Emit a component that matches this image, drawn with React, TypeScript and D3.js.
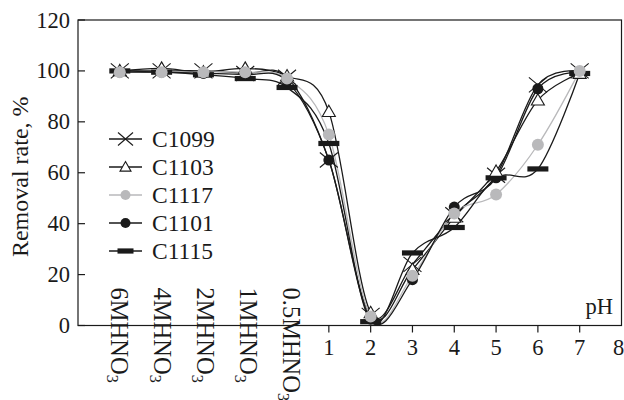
import React from "react";
import * as d3 from "d3";

// x positions: acid concentrations are placed left of pH 1
const acidLabels = ["6M", "4M", "2M", "1M", "0.5M"];
const xPos = [-4, -3, -2, -1, 0, 1, 2, 3, 4, 5, 6, 7];
const pHTicks = [1, 2, 3, 4, 5, 6, 7, 8];
const yTicks = [0, 20, 40, 60, 80, 100, 120];

const c1099 = [100, 100, 100, 99, 97.5, 65, 4, 24, 43.5, 59, 94.5, 100];
const c1103 = [100, 101, 99.5, 101, 98, 84, 5, 22, 42.5, 60.5, 88.5, 99];
const c1117 = [99.5, 99.5, 99.5, 99.5, 97, 75, 3.5, 19.5, 44, 51.5, 71, 100];
const c1101 = [99.5, 99.5, 99, 98.5, 96, 65, 2.5, 18, 46.5, 58, 93, 99.5];
const c1115 = [100, 99.5, 98.5, 97, 93.5, 71.5, 1.5, 28.5, 38.5, 58, 61.5, 99];

const W = 624;
const H = 400;
const margin = { left: 78, right: 2.5, top: 20, bottom: 74.5 };
const FONT = "'Liberation Serif', 'Times New Roman', Times, serif";
const GREY = "#b9b9bb";
const INK = "#1a1a1a";

type Kind = "x" | "tri" | "grey" | "dot" | "bar";
const series: { name: string; values: number[]; kind: Kind }[] = [
  { name: "C1099", values: c1099, kind: "x" },
  { name: "C1103", values: c1103, kind: "tri" },
  { name: "C1117", values: c1117, kind: "grey" },
  { name: "C1101", values: c1101, kind: "dot" },
  { name: "C1115", values: c1115, kind: "bar" },
];
// marker stacking seen in the picture
const markerOrder = ["C1115", "C1101", "C1099", "C1103", "C1117"];

const Marker = ({ kind, cx, cy, legend }: { kind: Kind; cx: number; cy: number; legend?: boolean }) => {
  if (kind === "x") {
    const w = legend ? 7.5 : 9, h = legend ? 6.5 : 7.5;
    return (
      <g stroke={INK} strokeWidth={1.1}>
        <line x1={cx - w} y1={cy - h} x2={cx + w} y2={cy + h} />
        <line x1={cx - w} y1={cy + h} x2={cx + w} y2={cy - h} />
      </g>
    );
  }
  if (kind === "tri") {
    const s = legend ? 5.5 : 6.5;
    return (
      <path
        d={`M${cx},${cy - s}L${cx + s},${cy + s * 0.75}L${cx - s},${cy + s * 0.75}Z`}
        fill="#fff"
        stroke={INK}
        strokeWidth={1.1}
      />
    );
  }
  if (kind === "grey") return <circle cx={cx} cy={cy} r={legend ? 5 : 6} fill={GREY} />;
  if (kind === "dot") return <circle cx={cx} cy={cy} r={legend ? 5 : 5.5} fill={INK} />;
  const bw = legend ? 16 : 21;
  return <rect x={cx - bw / 2} y={cy - 2.6} width={bw} height={5.2} fill={INK} />;
};

export default function App() {
  const x = d3.scaleLinear().domain([-5, 8]).range([margin.left, W - margin.right]);
  const y = d3.scaleLinear().domain([0, 120]).range([H - margin.bottom, margin.top]);

  const line = d3
    .line<number>()
    .x((_, i) => x(xPos[i]))
    .y((d) => y(d))
    .curve(d3.curveCatmullRom.alpha(0));

  const legendX = 109;
  const legendY = 139;
  const legendStep = 28;

  return (
    <svg
      width={W}
      height={H}
      style={{ position: "absolute", left: 0, top: 0, background: "#fff", fontFamily: FONT }}
    >
      {/* frame */}
      <rect
        x={x(-5)}
        y={y(120)}
        width={x(8) - x(-5)}
        height={y(0) - y(120)}
        fill="none"
        stroke={INK}
        strokeWidth={1.2}
      />

      {/* y axis */}
      {yTicks.map((t) => (
        <g key={t}>
          <line x1={x(-5)} x2={x(-5) + 7} y1={y(t)} y2={y(t)} stroke={INK} strokeWidth={1.2} />
          <text x={x(-5) - 8} y={y(t)} textAnchor="end" dominantBaseline="central" fontSize={22.5} fill={INK}>
            {t}
          </text>
        </g>
      ))}
      <text
        transform={`translate(20,${(y(0) + y(120)) / 2 + 4}) rotate(-90)`}
        textAnchor="middle"
        dominantBaseline="central"
        fontSize={24}
        fill={INK}
      >
        Removal rate, %
      </text>

      {/* x axis */}
      {pHTicks.map((t) => (
        <g key={t}>
          {t < 8 && <line x1={x(t)} x2={x(t)} y1={y(0)} y2={y(0) + 7} stroke={INK} strokeWidth={1.2} />}
          <text x={x(t) - (t === 8 ? 3 : 0)} y={y(0) + 29} textAnchor="middle" fontSize={22.5} fill={INK}>
            {t}
          </text>
        </g>
      ))}
      {acidLabels.map((lab, i) => (
        <text
          key={lab}
          transform={`translate(${x(xPos[i]) + i},${y(0) - 38}) rotate(90)`}
          dominantBaseline="central"
          fontSize={24.5}
          fill={INK}
        >
          {lab}HNO
          <tspan fontSize={16} dy={7}>
            3
          </tspan>
        </text>
      ))}
      <text x={613} y={y(0) - 12} textAnchor="end" fontSize={22.5} fill={INK}>
        pH
      </text>

      {/* lines */}
      {series.map((s) => (
        <path
          key={s.name}
          d={line(s.values) || ""}
          fill="none"
          stroke={s.kind === "grey" ? GREY : INK}
          strokeWidth={1.3}
        />
      ))}

      {/* markers */}
      {markerOrder.map((n) => {
        const s = series.find((d) => d.name === n)!;
        return (
          <g key={n}>
            {s.values.map((v, i) => (
              <Marker key={i} kind={s.kind} cx={x(xPos[i])} cy={y(v)} />
            ))}
          </g>
        );
      })}

      {/* legend */}
      {series.map((s, i) => {
        const cy = legendY + i * legendStep;
        return (
          <g key={s.name}>
            <line
              x1={legendX}
              x2={legendX + 33}
              y1={cy}
              y2={cy}
              stroke={s.kind === "grey" ? GREY : INK}
              strokeWidth={1.3}
            />
            <Marker kind={s.kind} cx={legendX + 16.5} cy={cy} legend />
            <text x={legendX + 43} y={cy} dominantBaseline="central" fontSize={23.5} fill={INK}>
              {s.name}
            </text>
          </g>
        );
      })}
    </svg>
  );
}
